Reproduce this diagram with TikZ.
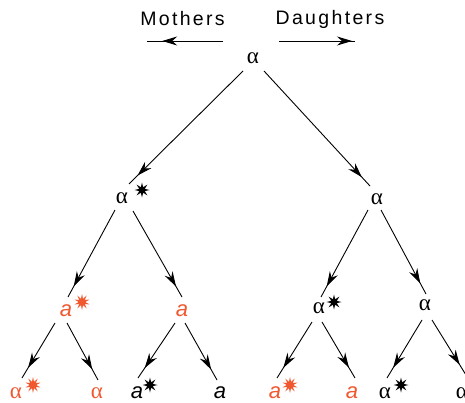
\documentclass[tikz,border=0pt]{standalone}
\usepackage{fontspec}
\setmainfont{Liberation Serif}
\newfontfamily\hsans[LetterSpace=12]{Liberation Sans}
\newfontfamily\isans{Liberation Sans}
\usetikzlibrary{arrows.meta,decorations.markings,shapes.geometric}
\definecolor{orng}{RGB}{240,88,48}
\tikzset{
  tip/.tip={Stealth[length=15pt,width=9pt,inset=5pt]},
  edge/.style={line width=0.9pt,postaction={decorate},
    decoration={markings,mark=at position -12pt with {\arrow{tip}}}},
  hdr/.style={font=\hsans\fontsize{19.5}{21}\selectfont,inner sep=0pt},
  gr/.style={font=\fontsize{23}{24}\selectfont,inner sep=0pt},
  la/.style={font=\isans\itshape\fontsize{22}{24}\selectfont,inner sep=0pt},
  bstar/.style={star,star points=8,star point ratio=2.5,minimum size=15pt,inner sep=0pt,fill=black,draw=none},
  ostar/.style={star,star points=10,star point ratio=2.4,minimum size=16pt,inner sep=0pt,fill=orng,draw=none},
}
\begin{document}
\begin{tikzpicture}[x=1pt,y=-1pt]
\useasboundingbox (0,0) rectangle (465,403);
% headers
\node[hdr] (moth) at (182.5,19) {Mothers};
\node[hdr] (daug) at (330,19) {Daughters};
\coordinate (ml1) at (223,41);
\coordinate (ml2) at (147,41);
\coordinate (dl1) at (279,41);
\coordinate (dl2) at (355,41);
\draw[line width=0.9pt,postaction={decorate},decoration={markings,mark=at position 0.8 with {\arrow{tip}}}] (ml1) -- (ml2);
\draw[line width=0.9pt,postaction={decorate},decoration={markings,mark=at position -3pt with {\arrow{tip}}}] (dl1) -- (dl2);
% nodes
\node[gr] (r) at (253,58) {α};
\node[gr] (l1) at (122,198) {α};
\node[bstar] (l1s) at (142,190) {};
\node[gr] (r1) at (377,199) {α};
\node[la,text=orng] (l2a) at (66,311) {a};
\node[ostar] (l2as) at (82,302) {};
\node[la,text=orng] (l2b) at (182,311) {a};
\node[gr] (r2a) at (319,308) {α};
\node[bstar] (r2as) at (334,302) {};
\node[gr] (r2b) at (425,305) {α};
\node[gr,text=orng] (l3a) at (16,393) {α};
\node[ostar] (l3as) at (33,385) {};
\node[gr,text=orng] (l3b) at (97,393) {α};
\node[la] (l3c) at (137,393) {a};
\node[bstar] (l3cs) at (150,385) {};
\node[la] (l3d) at (220,393) {a};
\node[la,text=orng] (r3a) at (275,393) {a};
\node[ostar] (r3as) at (290,385) {};
\node[la,text=orng] (r3b) at (352,393) {a};
\node[gr] (r3c) at (385,393) {α};
\node[bstar] (r3cs) at (401,385) {};
\node[gr] (r3d) at (462,393) {α};
% edges
\draw[edge] ([shift={(-10,13)}]r.center) -- ([shift={(7,-14)}]l1.center);
\draw[edge] ([shift={(11,13)}]r.center) -- ([shift={(-7,-13)}]r1.center);
\draw[edge] ([shift={(-7,12)}]l1.center) -- ([shift={(2,-14)}]l2a.center);
\draw[edge] ([shift={(11,13)}]l1.center) -- ([shift={(0,-14)}]l2b.center);
\draw[edge] ([shift={(-9,11)}]r1.center) -- ([shift={(2,-11)}]r2a.center);
\draw[edge] ([shift={(4,11)}]r1.center) -- ([shift={(1,-11)}]r2b.center);
\draw[edge] ([shift={(-11,12)}]l2a.center) -- ([shift={(6,-15)}]l3a.center);
\draw[edge] ([shift={(1,12)}]l2a.center) -- ([shift={(1,-13)}]l3b.center);
\draw[edge] ([shift={(-7,12)}]l2b.center) -- ([shift={(1,-15)}]l3c.center);
\draw[edge] ([shift={(3,12)}]l2b.center) -- ([shift={(-3,-13)}]l3d.center);
\draw[edge] ([shift={(-7,14)}]r2a.center) -- ([shift={(2,-15)}]r3a.center);
\draw[edge] ([shift={(3,14)}]r2a.center) -- ([shift={(3,-15)}]r3b.center);
\draw[edge] ([shift={(-3,15)}]r2b.center) -- ([shift={(2,-15)}]r3c.center);
\draw[edge] ([shift={(7,15)}]r2b.center) -- ([shift={(4,-18)}]r3d.center);
\end{tikzpicture}
\end{document}
